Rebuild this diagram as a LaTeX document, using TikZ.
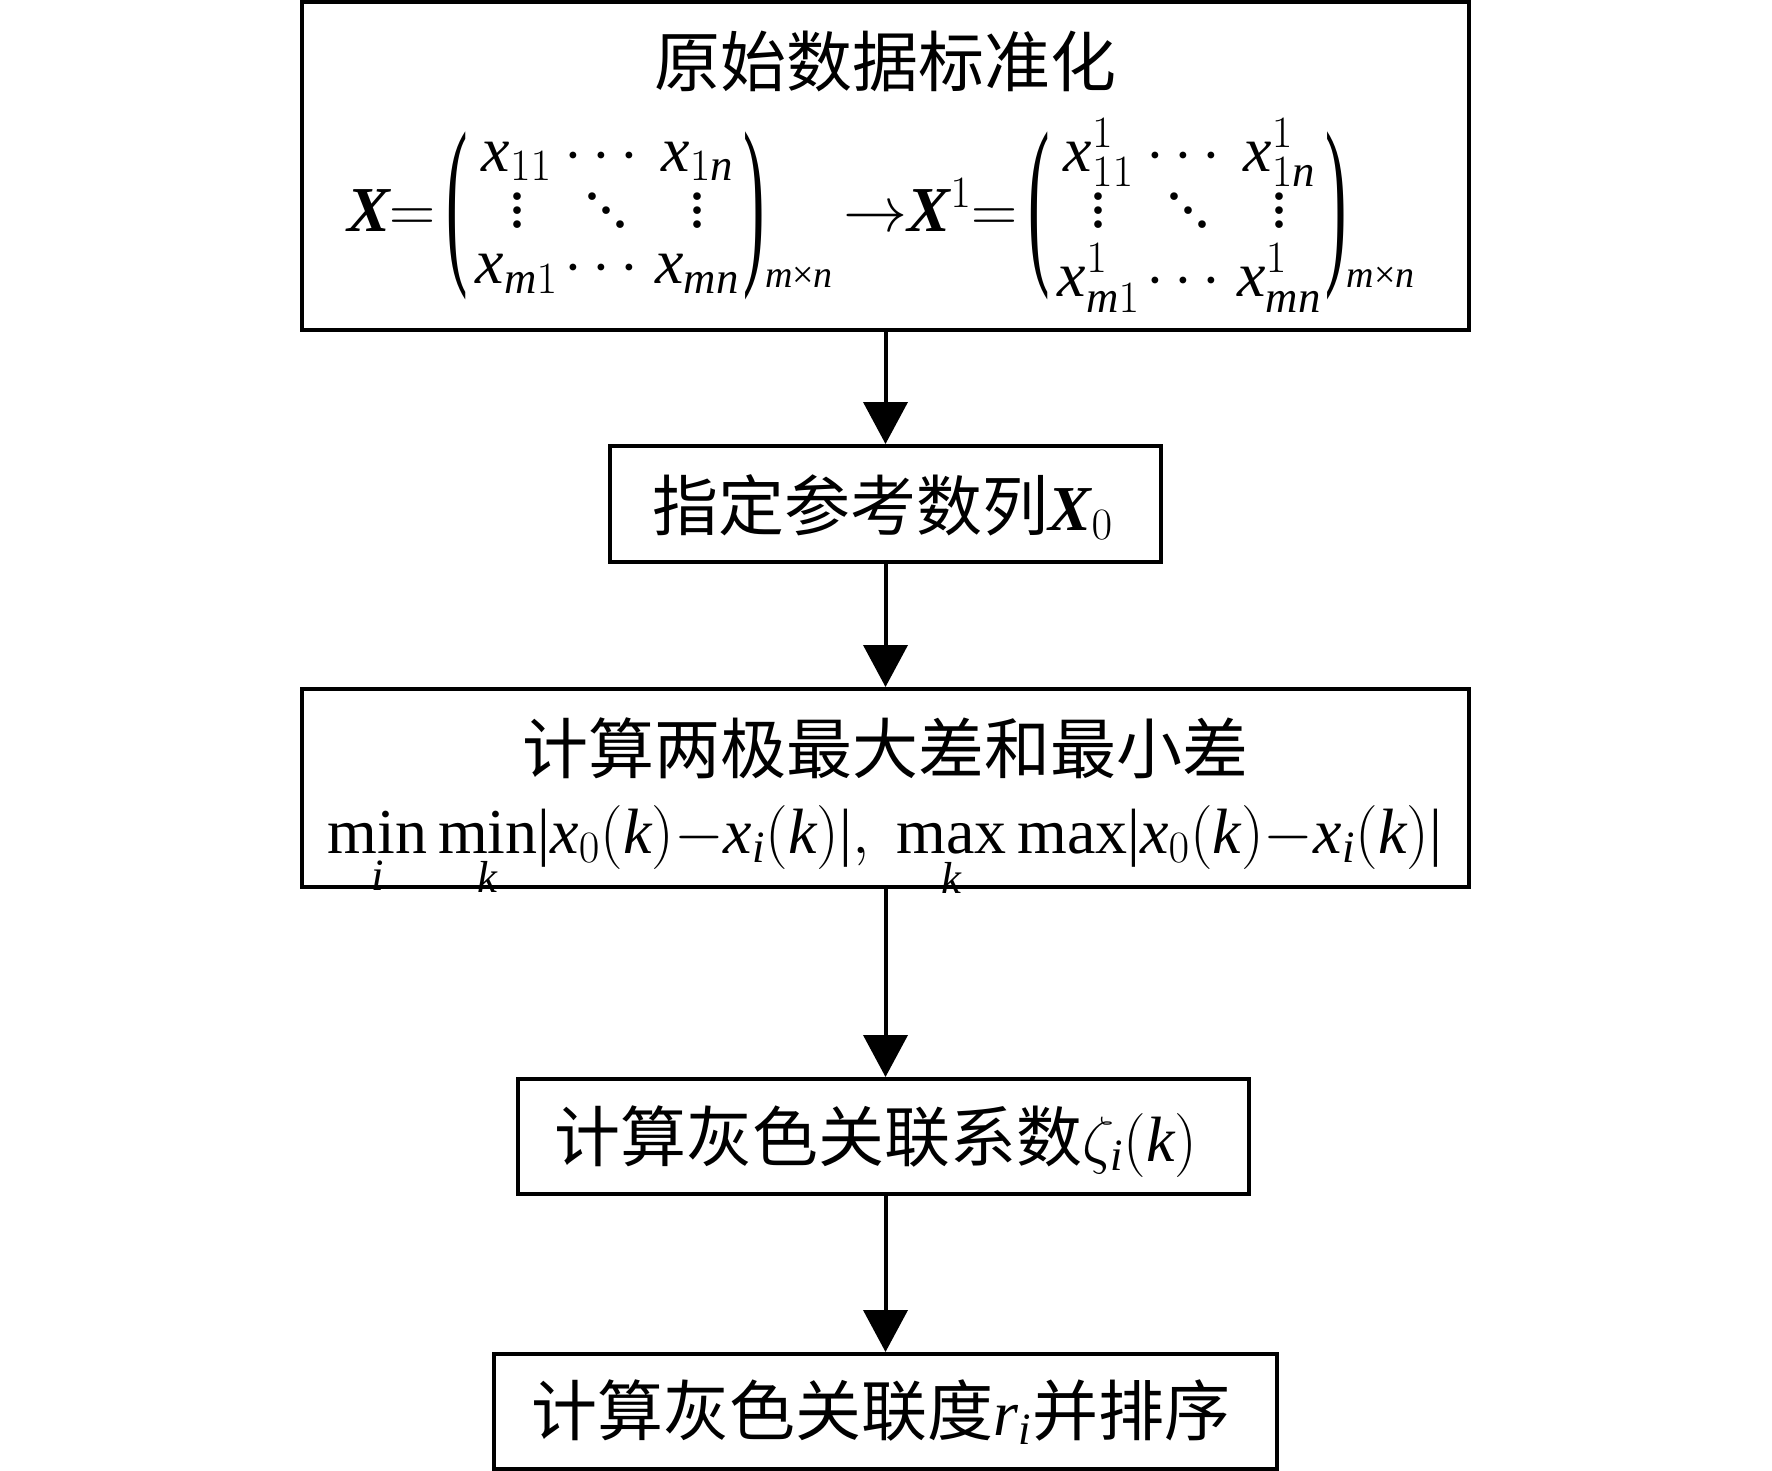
\RequirePackage{fix-cm}
\documentclass[tikz,border=0pt]{standalone}
\usepackage{amsmath}
\usepackage{graphicx}
\usepackage{fontspec}
\setmainfont{Liberation Serif}
\newfontfamily\cjk{Noto Sans CJK SC}
\DeclareSymbolFont{tnrit}{TU}{\rmdefault}{m}{it}
\DeclareSymbolFont{tnrup}{TU}{\rmdefault}{m}{n}
\DeclareMathSymbol{x}{\mathalpha}{tnrit}{`x}
\DeclareMathSymbol{m}{\mathalpha}{tnrit}{`m}
\DeclareMathSymbol{n}{\mathalpha}{tnrit}{`n}
\DeclareMathSymbol{k}{\mathalpha}{tnrit}{`k}
\DeclareMathSymbol{i}{\mathalpha}{tnrit}{`i}
\DeclareMathSymbol{r}{\mathalpha}{tnrit}{`r}
\DeclareMathSymbol{(}{\mathopen}{tnrup}{`(}
\DeclareMathSymbol{)}{\mathclose}{tnrup}{`)}
\DeclareMathSymbol{|}{\mathord}{tnrup}{`|}
\newcommand\BX{\mbox{\rmfamily\bfseries\itshape X}}
\newcommand\LP{\vcenter{\hbox{\scalebox{1}[2.9]{\rmfamily (}}}}
\newcommand\RP{\vcenter{\hbox{\scalebox{1}[2.9]{\rmfamily )}}}}
\newcommand\MN{\mbox{\raisebox{-28pt}{\fontsize{19}{20}\selectfont\rmfamily\textit{m}×\textit{n}}}}
\newcommand\VD{\mbox{\rmfamily\vbox{\baselineskip=7pt\lineskiplimit=-20pt\hbox{.}\hbox{.}\hbox{.}}}}
\newcommand\DD{\mbox{\rmfamily\raisebox{14pt}{.}\kern-1pt\raisebox{7pt}{.}\kern-1pt.}}
\newcommand\MAT[1]{\begin{array}{@{\hspace{4pt}}c@{\hspace{3pt}}c@{\hspace{3pt}}c@{\hspace{2pt}}}x_{11}#1&\cdots&x_{1n}#1\\ \VD&\DD&\VD\\ x_{m1}#1&\cdots&x_{mn}#1\end{array}}
\usetikzlibrary{arrows.meta}
\begin{document}
\begin{tikzpicture}[x=0.5pt,y=-0.5pt,
  box/.style={draw,line width=2pt,rectangle,inner sep=0pt},
  arr/.style={line width=2pt,-{Triangle[width=22pt,length=21pt]}},
  zh/.style={font=\fontsize{33}{40}\selectfont\cjk,inner sep=0pt,anchor=base},
  mt/.style={font=\fontsize{32}{38}\selectfont,inner sep=0pt}]
\useasboundingbox (0,0) rectangle (1772,1471);
\node[box,minimum width=583.5pt,minimum height=164pt] (b1) at (885.5,166) {};
\node[box,minimum width=275.5pt,minimum height=58pt] (b2) at (885.5,504) {};
\node[box,minimum width=583.5pt,minimum height=99pt] (b3) at (885.5,788) {};
\node[box,minimum width=365.5pt,minimum height=57.5pt] (b4) at (883.5,1136.5) {};
\node[box,minimum width=391.5pt,minimum height=57.5pt] (b5) at (885.5,1411.5) {};
\node[zh] (t1) at (885,87) {原始数据标准化};
\node[mt,anchor=base] (m1) at (881,232) {$\renewcommand\arraystretch{0.74}\BX{=}\,\LP\MAT{}\RP\MN\,\mathord{\rightarrow}\BX^1{=}\,\LP\MAT{^1}\RP\MN$};
\node[zh] (t2) at (883,530) {指定参考数列{\fontsize{32}{38}\selectfont$\BX_0$}};
\node[zh] (t3) at (885,773) {计算两极最大差和最小差};
\node[mt,anchor=base] (m3) at (885,853) {$\min\limits_i\min\limits_k\!|x_0(k){-}x_i(k)|,\ \max\limits_k\max\!|x_0(k){-}x_i(k)|$};
\node[zh] (t4) at (876,1161) {计算灰色关联系数{\fontsize{32}{38}\selectfont$\zeta_i(k)$}};
\node[zh] (t5) at (881,1435) {计算灰色关联度{\fontsize{32}{38}\selectfont$r_i$}并排序};
\draw[arr] (b1.south) -- (b2.north);
\draw[arr] (b2.south) -- (b3.north);
\draw[arr] (b3.south) -- (b4.north -| b3.south);
\draw[arr] (b4.south -| b3.south) -- (b5.north);
\end{tikzpicture}
\end{document}
